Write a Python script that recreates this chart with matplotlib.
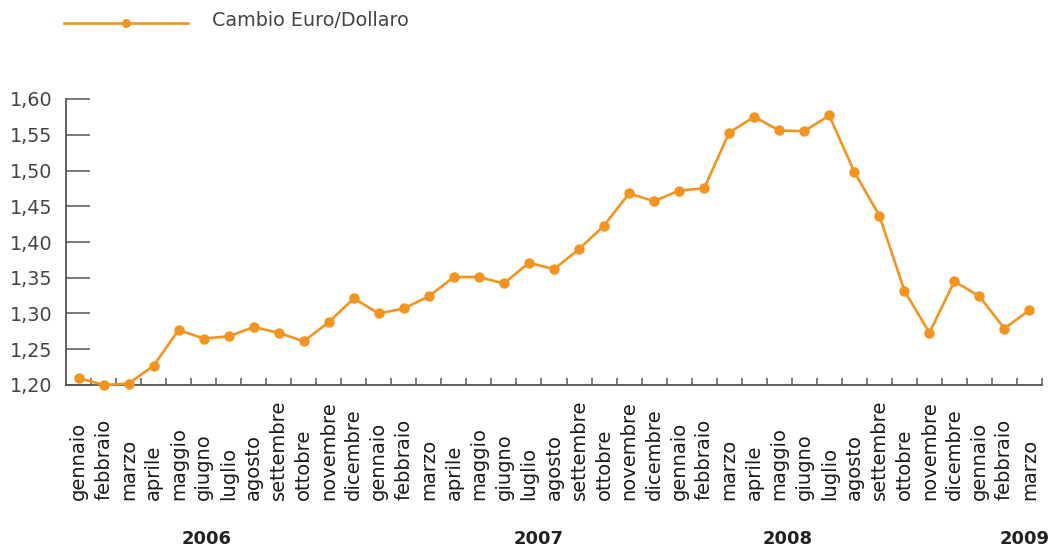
import matplotlib
matplotlib.use("Agg")
import matplotlib.pyplot as plt
import numpy as np
from matplotlib.lines import Line2D
from matplotlib.transforms import blended_transform_factory

# monthly euro/dollar rate, gen 2006 - mar 2009
mesi = ['gennaio', 'febbraio', 'marzo', 'aprile', 'maggio', 'giugno', 'luglio',
        'agosto', 'settembre', 'ottobre', 'novembre', 'dicembre']
labels = mesi * 3 + mesi[:3]
cambio = [1.210, 1.200, 1.202, 1.227, 1.277, 1.265, 1.268, 1.281, 1.273, 1.261, 1.288, 1.321,
          1.300, 1.307, 1.324, 1.351, 1.351, 1.342, 1.371, 1.362, 1.390, 1.423, 1.468, 1.457,
          1.472, 1.475, 1.553, 1.575, 1.556, 1.555, 1.577, 1.498, 1.437, 1.332, 1.273, 1.345,
          1.324, 1.279, 1.305]
anni = ['2006', '2007', '2008', '2009']
anni_pos = [5.1, 18.4, 28.35, 37.8]
yticks = [1.20, 1.25, 1.30, 1.35, 1.40, 1.45, 1.50, 1.55, 1.60]

orange = '#F39420'
grey = '#555555'

fig = plt.figure(figsize=(10.48, 5.51), dpi=100)
ax = fig.add_axes([66/1048, 1 - 385/551, 976/1048, 286/551])

x = np.arange(len(cambio))
ax.plot(x, cambio, color=orange, lw=1.9, marker='o', ms=6.5, clip_on=False, zorder=3)

ax.set_xlim(-0.5, 38.5)
ax.set_ylim(1.20, 1.60)
for s in ['top', 'right']:
    ax.spines[s].set_visible(False)
for s in ['left', 'bottom']:
    ax.spines[s].set_color(grey)
    ax.spines[s].set_linewidth(1.3)

ax.set_yticks(yticks)
ax.set_yticklabels([('%.2f' % v).replace('.', ',') for v in yticks],
                   fontsize=13.8, color='#444444')
ax.tick_params(axis='y', direction='in', length=17, width=1.1, color=grey, pad=10)
ax.set_xticks(np.arange(0.5, 39, 1))
ax.set_xticklabels([])
ax.tick_params(axis='x', direction='in', length=5, width=1.1, color=grey)

trans = blended_transform_factory(ax.transData, fig.transFigure)
for i, lab in enumerate(labels):
    ax.text(i, 51/551, lab, transform=trans, rotation=90, ha='center', va='bottom',
            fontsize=14, color='#1a1a1a')
for pos, a in zip(anni_pos, anni):
    ax.text(pos, 12/551, a, transform=trans, ha='center', va='center',
            fontsize=13, fontweight='bold', color='#222222')

# legend
fig.add_artist(Line2D([64/1048, 188/1048], [1 - 23/551] * 2, color=orange, lw=1.9))
fig.add_artist(Line2D([126/1048], [1 - 23/551], color=orange, marker='o', ms=5.5))
fig.text(212/1048, 1 - 21/551, 'Cambio Euro/Dollaro', fontsize=13.8, color='#444444',
         va='center', ha='left')

fig.savefig('out.png', dpi=100)
